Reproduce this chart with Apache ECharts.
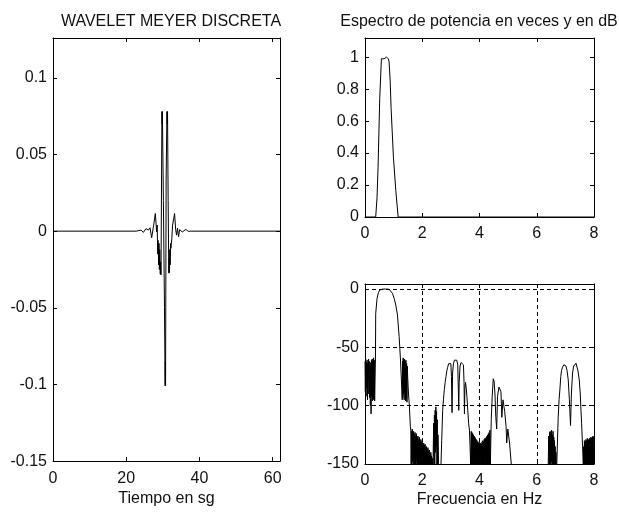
<!DOCTYPE html>
<html>
<head>
<meta charset="utf-8">
<script src="https://cdn.jsdelivr.net/npm/echarts@6/dist/echarts.min.js"></script>
<style>
  html, body { margin: 0; padding: 0; background: #fff; }
  #chart { width: 619px; height: 512px; }
</style>
</head>
<body>
<div id="chart"></div>
<script>
// Discrete Meyer wavelet in time (seconds)
const timeSec = [0, 22.8, 23.14, 24.05, 24.68, 25.41, 26.04, 26.49, 26.95, 27.49, 27.95, 28.31, 28.45, 28.6, 28.7, 28.85, 28.95, 29.05, 29.15, 29.3, 29.4, 29.5,
  29.75, 29.82, 29.88, 30.15, 30.45, 30.62, 30.68, 30.74, 30.9, 31.12, 31.2, 31.28, 31.45,
  31.62, 31.72, 31.8, 31.9, 32.0, 32.1, 32.21, 32.45, 32.66, 33.21, 33.5, 33.75, 34.0, 34.29,
  34.6, 34.93, 35.3, 35.65, 36.29, 36.93, 37.65, 62];
const waveletAmp = [0, 0, 0.0003, 0.0007, -0.0008, 0.0017, 0.0007, 0.0022, -0.0043, 0.0039, 0.0115, -0.0004, 0.004, -0.015, -0.006, -0.022, -0.008, -0.025, -0.012, -0.028, -0.02, -0.0285,
  0.078, 0.070, 0.078, 0.020, -0.050, -0.1008, -0.085, -0.1008, 0.033, 0.078, 0.070, 0.078, 0.020,
  -0.0274, -0.018, -0.027, -0.012, -0.022, -0.008, -0.0112, -0.005, 0.0039, 0.0115, 0.001, -0.0026, 0.002, -0.0036,
  0.001, 0.0017, -0.0005, 0.0, 0.0011, -0.0001, 0, 0];

// Power spectrum, linear scale
const freqLin = [0, 0.374, 0.42, 0.456, 0.515, 0.573, 0.608, 0.667, 0.70, 0.749, 0.819, 0.842, 0.88, 0.912, 0.994, 1.076, 1.158, 8];
const powerLin = [0, 0, 0.12, 0.309, 0.742, 0.99, 1.0, 0.99, 0.985, 1.0, 0.99, 0.97, 0.85, 0.68, 0.37, 0.165, 0, 0];

// Power spectrum in dB
const freqDb = [
  0.000, 0.012, 0.025, 0.037, 0.050, 0.062, 0.075, 0.087, 0.100, 0.112, 0.125, 0.137, 0.150, 0.162, 0.175, 0.187, 0.200, 0.212, 0.225, 0.237,
  0.250, 0.262, 0.275, 0.287, 0.300, 0.312, 0.325, 0.337, 0.351,
  0.365, 0.374, 0.421, 0.468, 0.515, 0.608, 0.725, 0.842, 0.900, 0.959, 1.018, 1.076, 1.134, 1.193, 1.240, 1.287, 1.300,
  1.310, 1.322, 1.334, 1.346, 1.358, 1.370, 1.382, 1.394, 1.406, 1.418, 1.430, 1.442, 1.454, 1.466, 1.478,
  1.490, 1.520, 1.550, 1.585,
  1.600, 1.612, 1.625, 1.637, 1.650, 1.662, 1.675, 1.687, 1.700, 1.712, 1.725, 1.737, 1.750, 1.762, 1.775, 1.787, 1.800, 1.812, 1.825, 1.837,
  1.850, 1.862, 1.875, 1.887, 1.900, 1.912, 1.925, 1.937, 1.950, 1.962, 1.975, 1.987, 2.000, 2.012, 2.025, 2.037, 2.050, 2.062, 2.075, 2.087,
  2.100, 2.112, 2.125, 2.137, 2.150, 2.162, 2.175, 2.187, 2.200, 2.212, 2.225, 2.237, 2.250, 2.262, 2.275, 2.287, 2.300, 2.312, 2.325, 2.337,
  2.350, 2.362,
  2.375, 2.400, 2.412, 2.425, 2.437, 2.450, 2.462, 2.475, 2.487, 2.500, 2.512, 2.525, 2.537, 2.550, 2.575, 2.600,
  2.655, 2.680, 2.713, 2.740, 2.772, 2.800, 2.830, 2.860, 2.889, 2.920, 2.947, 2.980, 3.000, 3.020, 3.041, 3.060, 3.090, 3.123, 3.160, 3.205,
  3.240, 3.260, 3.275, 3.290, 3.320, 3.357, 3.400, 3.439, 3.460, 3.474, 3.490, 3.510, 3.532, 3.560, 3.591, 3.620, 3.649, 3.670, 3.690,
  3.712, 3.725, 3.737, 3.750, 3.762, 3.775, 3.787, 3.800, 3.812, 3.825, 3.837, 3.850, 3.862, 3.875, 3.887, 3.900, 3.912, 3.925, 3.937, 3.950,
  3.962, 3.975, 3.987, 4.000, 4.012, 4.025, 4.037, 4.050, 4.062, 4.075, 4.087, 4.100, 4.112, 4.125, 4.137, 4.150, 4.162, 4.175, 4.187, 4.200,
  4.212, 4.225, 4.237, 4.250, 4.262, 4.275, 4.287, 4.300, 4.312, 4.325, 4.337, 4.350, 4.362,
  4.380, 4.410, 4.444, 4.480, 4.510, 4.540, 4.570, 4.600, 4.630, 4.680, 4.750, 4.780, 4.820, 4.880, 4.930, 4.950, 4.990, 5.050, 5.110,
  5.150, 6.350,
  6.400, 6.420, 6.432, 6.445, 6.457, 6.470, 6.482, 6.495, 6.507, 6.520, 6.532, 6.545, 6.557, 6.570, 6.582, 6.595, 6.607, 6.620, 6.632, 6.645,
  6.657, 6.670, 6.690,
  6.700, 6.749, 6.780, 6.807, 6.840, 6.865, 6.900, 6.947, 6.980, 7.020, 7.060, 7.100, 7.140, 7.180, 7.210, 7.250, 7.290, 7.330, 7.370, 7.400,
  7.440, 7.485, 7.520, 7.545, 7.567, 7.600, 7.626,
  7.640, 7.652, 7.665, 7.677, 7.690, 7.702, 7.715, 7.727, 7.740, 7.752, 7.765, 7.777, 7.790, 7.802, 7.815, 7.827, 7.840, 7.852, 7.865, 7.877,
  7.890, 7.902, 7.915, 7.927, 7.940, 7.952, 7.965, 7.977, 7.990, 8.000
];
const levelDb = [
  -62, -88, -60, -92, -63, -85, -61, -95, -64, -90, -60, -78, -62, -93, -66, -100, -63, -107, -61, -92,
  -60, -96, -62, -95, -59, -94, -61, -96, -95,
  -60, -21, -8, -3.1, -0.9, -0.1, 0, -0.2, -0.9, -3.7, -8, -13.7, -22.3, -40.9, -60.9, -86.6, -95,
  -62, -93, -59, -90, -61, -95, -60, -88, -62, -96, -61, -94, -64, -97, -66,
  -75, -90, -100, -118,
  -121, -155, -122, -150, -120, -148, -123, -155, -122, -145, -124, -155, -123, -150, -126, -155, -124, -147, -127, -155,
  -126, -152, -129, -155, -127, -150, -130, -155, -129, -155, -131, -150, -130, -155, -133, -155, -132, -151, -134, -155,
  -133, -155, -136, -155, -135, -155, -137, -155, -136, -155, -139, -155, -138, -155, -141, -155, -140, -155, -143, -155,
  -145, -155,
  -150, -115, -155, -108, -150, -104, -140, -101, -135, -105, -150, -112, -155, -125, -155, -160,
  -150, -130, -104, -95, -86, -80, -75, -70, -67, -64, -63, -62.5, -64, -75, -106, -72, -64, -61, -60.5, -61,
  -65, -85, -104, -80, -66, -63, -62, -65, -80, -107, -85, -80, -84, -92, -104, -115, -121, -135, -150,
  -122, -155, -123, -150, -124, -155, -125, -155, -126, -152, -127, -155, -128, -155, -129, -150, -130, -155, -131, -155,
  -132, -155, -131, -155, -133, -150, -132, -155, -133, -155, -131, -155, -130, -152, -131, -155, -129, -155, -128, -150,
  -128, -155, -127, -155, -126, -155, -125, -150, -124, -155, -123, -155, -121,
  -150, -112, -92, -77, -79, -90, -110, -120, -92, -84, -88, -110, -95, -105, -118, -132, -120, -132, -150,
  -170, -170,
  -150, -126, -155, -123, -150, -122, -155, -124, -148, -121, -155, -125, -150, -122, -155, -127, -155, -130, -155, -135,
  -155, -140, -160,
  -150, -110, -95, -86.6, -75, -70, -67, -65, -65, -66, -70, -78, -95, -117, -90, -72, -66, -64.5, -63.6, -65,
  -70, -78, -90, -104, -115, -135, -150,
  -135, -155, -130, -155, -131, -150, -129, -155, -130, -155, -128, -152, -130, -155, -129, -155, -128, -150, -129, -155,
  -127, -155, -128, -150, -127, -155, -126, -155, -127, -128
];

// Axis tick labels
const timeTicks = [0, 20, 40, 60];
const ampTicks = [-0.15, -0.1, -0.05, 0, 0.05, 0.1];
const freqTicks = [0, 2, 4, 6, 8];
const linTicks = [0, 0.2, 0.4, 0.6, 0.8, 1];
const dbTicks = [-150, -100, -50, 0];

const zip = (a, b) => a.map((v, i) => [v, b[i]]);

const FONT = '"Liberation Sans", Arial, Helvetica, sans-serif';
const labelStyle = { color: '#111', fontSize: 16, fontFamily: FONT };
const lineBlack = { color: '#000', width: 1 };

function axisPair(kind, grid, opts) {
  const main = {
    type: 'value', gridIndex: grid, min: opts.min, max: opts.max, interval: opts.interval,
    position: kind === 'x' ? 'bottom' : 'left',
    axisLine: { show: true, onZero: false, lineStyle: lineBlack },
    axisTick: { show: true, inside: true, length: 4, lineStyle: lineBlack },
    axisLabel: Object.assign({ show: true, margin: kind === 'x' ? 9 : 6, showMaxLabel: true, showMinLabel: true, hideOverlap: false,
      formatter: v => (opts.ticks.some(t => Math.abs(t - v) < 1e-9) ? String(+v.toFixed(4)) : '') }, labelStyle),
    splitLine: opts.grid ? { show: true, showMinLine: false, showMaxLine: false,
      lineStyle: { color: '#000', width: 1, type: [4, 3] } } : { show: false },
    name: opts.name || '', nameLocation: 'middle', nameGap: opts.nameGap || 0,
    nameTextStyle: labelStyle
  };
  const mirror = {
    type: 'value', gridIndex: grid, min: opts.min, max: opts.max, interval: opts.interval,
    position: kind === 'x' ? 'top' : 'right',
    axisLine: { show: true, onZero: false, lineStyle: lineBlack },
    axisTick: { show: true, inside: true, length: 4, lineStyle: lineBlack },
    axisLabel: { show: false },
    splitLine: { show: false }
  };
  return [main, mirror];
}

const xAxes = [].concat(
  axisPair('x', 0, { min: 0, max: 62, interval: 20, ticks: timeTicks, name: 'Tiempo en sg', nameGap: 28 }),
  axisPair('x', 1, { min: 0, max: 8, interval: 2, ticks: freqTicks }),
  axisPair('x', 2, { min: 0, max: 8, interval: 2, ticks: freqTicks, grid: true, name: 'Frecuencia en Hz', nameGap: 28 })
);
const yAxes = [].concat(
  axisPair('y', 0, { min: -0.15, max: 0.126, interval: 0.05, ticks: ampTicks }),
  axisPair('y', 1, { min: 0, max: 1.12, interval: 0.2, ticks: linTicks }),
  axisPair('y', 2, { min: -150, max: 4.3, interval: 50, ticks: dbTicks, grid: true })
);

const chart = echarts.init(document.getElementById('chart'), null, { renderer: 'canvas' });
chart.setOption({
  animation: false,
  backgroundColor: '#fff',
  title: [
    { text: 'WAVELET MEYER DISCRETA', left: 166, top: 9, textAlign: 'center',
      textStyle: { color: '#111', fontSize: 16, fontWeight: 'normal', fontFamily: FONT } },
    { text: 'Espectro de potencia en veces y en dB', left: 474, top: 9, textAlign: 'center',
      textStyle: { color: '#111', fontSize: 16, fontWeight: 'normal', fontFamily: FONT } }
  ],
  grid: [
    { left: 53, top: 38, width: 227, height: 425 },
    { left: 365, top: 38, width: 229, height: 179 },
    { left: 365, top: 284, width: 229, height: 180 }
  ],
  xAxis: xAxes,
  yAxis: yAxes,
  series: [
    { type: 'line', xAxisIndex: 0, yAxisIndex: 0, data: zip(timeSec, waveletAmp),
      showSymbol: false, lineStyle: lineBlack, clip: true },
    { type: 'line', xAxisIndex: 2, yAxisIndex: 2, data: zip(freqLin, powerLin),
      showSymbol: false, lineStyle: lineBlack, clip: true },
    { type: 'line', xAxisIndex: 4, yAxisIndex: 4, data: zip(freqDb, levelDb),
      showSymbol: false, lineStyle: lineBlack, clip: true }
  ]
});
</script>
</body>
</html>
